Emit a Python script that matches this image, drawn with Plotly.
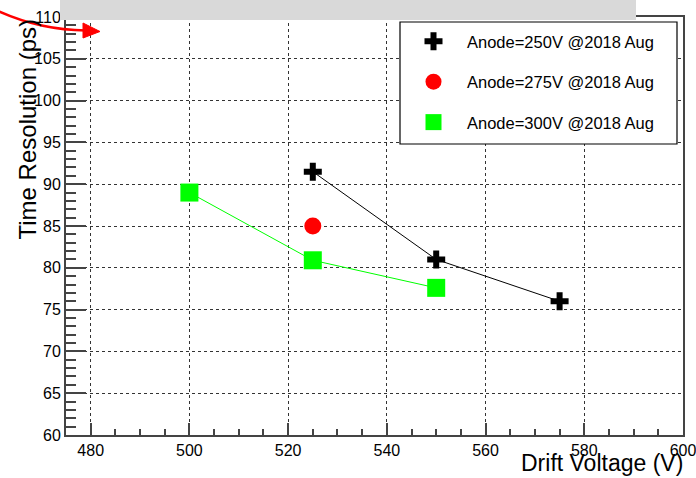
import plotly.graph_objects as go

# ---- data ----
drift_250 = [525, 550, 575]
res_250 = [91.5, 81.0, 76.0]
drift_275 = [525]
res_275 = [85.0]
drift_300 = [500, 525, 550]
res_300 = [89.0, 80.9, 77.6]

names = ["Anode=250V @2018 Aug", "Anode=275V @2018 Aug", "Anode=300V @2018 Aug"]
x_ticks = [480, 500, 520, 540, 560, 580, 600]
y_ticks = [60, 65, 70, 75, 80, 85, 90, 95, 100, 105, 110]

W, H = 696, 478
ML, MR, MT, MB = 66, 13, 17, 43
PW, PH = W - ML - MR, H - MT - MB


def px(xp):
    return (xp - ML) / PW


def py(yp):
    return (H - MB - yp) / PH


FONT = "Liberation Sans, Arial, Helvetica, sans-serif"

m250 = dict(symbol="cross", size=15, color="black", line=dict(width=0))
m275 = dict(symbol="circle", size=17, color="#ff0000", line=dict(width=0))
m300 = dict(symbol="square", size=18, color="#00ff00", line=dict(width=0))

fig = go.Figure()
fig.add_trace(go.Scatter(
    x=drift_250, y=res_250, mode="lines+markers", showlegend=False,
    line=dict(color="black", width=1), marker=m250,
))
fig.add_trace(go.Scatter(
    x=drift_275, y=res_275, mode="markers", showlegend=False, marker=m275,
))
fig.add_trace(go.Scatter(
    x=drift_300, y=res_300, mode="lines+markers", showlegend=False,
    line=dict(color="#00ff00", width=1), marker=m300,
))
# legend entries (markers only, as in the reference)
for nm, mk, grp in zip(names, [m250, m275, m300], ["a", "b", "c"]):
    fig.add_trace(go.Scatter(x=[None], y=[None], mode="markers", name=nm,
                             legendgroup=grp, marker=mk))

axis_common = dict(
    showline=True, linecolor="#444", linewidth=2, mirror=True,
    ticks="inside", tickcolor="#444", tickwidth=1.5,
    showgrid=True, gridcolor="#333", griddash="dot", gridwidth=1,
    zeroline=False, automargin=False, ticklabeloverflow="allow",
    tickfont=dict(family=FONT, size=16, color="black"),
)

fig.update_xaxes(
    range=[475, 600], tickvals=x_ticks, ticklen=12,
    minor=dict(dtick=5, ticks="inside", ticklen=6, tickcolor="#444", tickwidth=1.5, showgrid=False),
    **axis_common,
)
fig.update_yaxes(
    range=[60, 110], tickvals=y_ticks, ticklen=20,
    minor=dict(dtick=1, ticks="inside", ticklen=10, tickcolor="#444", tickwidth=1.5, showgrid=False),
    **axis_common,
)

shapes = [
    # grey title box cut at top
    dict(type="rect", xref="paper", yref="paper",
         x0=px(60), x1=px(636), y0=py(0), y1=py(20),
         fillcolor="#d9d9d9", line=dict(width=0), layer="above"),
    # legend frame
    dict(type="rect", xref="paper", yref="paper",
         x0=px(400), x1=px(677), y0=py(22), y1=py(144),
         fillcolor="white", line=dict(color="black", width=1.2), layer="above"),
    # red curved arrow
    dict(type="path", xref="paper", yref="paper",
         path=f"M {px(-2)},{py(11)} Q {px(40)},{py(30)} {px(86)},{py(30.5)}",
         line=dict(color="#ff0000", width=2.5), layer="above"),
    dict(type="path", xref="paper", yref="paper",
         path=f"M {px(83)},{py(23)} L {px(100)},{py(31.5)} L {px(83)},{py(38)} Z",
         fillcolor="#ff0000", line=dict(color="#ff0000", width=1), layer="above"),
]

annotations = [
    dict(text="Time Resolution (ps)", xref="paper", yref="paper",
         x=px(27), y=py(17), xanchor="center", yanchor="top", textangle=-90,
         showarrow=False, font=dict(family=FONT, size=24, color="black")),
    dict(text="Drift Voltage (V)", xref="paper", yref="paper",
         x=px(685), y=py(478), xanchor="right", yanchor="bottom",
         showarrow=False, font=dict(family=FONT, size=23, color="black")),
]

fig.update_layout(
    width=W, height=H,
    margin=dict(l=ML, r=MR, t=MT, b=MB, autoexpand=False),
    paper_bgcolor="white", plot_bgcolor="white",
    shapes=shapes, annotations=annotations,
    showlegend=True,
    legend=dict(
        x=px(400), y=py(24), xanchor="left", yanchor="top",
        bgcolor="rgba(0,0,0,0)", borderwidth=0,
        font=dict(family=FONT, size=16.5, color="black"),
        itemwidth=57, tracegroupgap=16, traceorder="grouped",
    ),
)

fig.write_html("out.html")
